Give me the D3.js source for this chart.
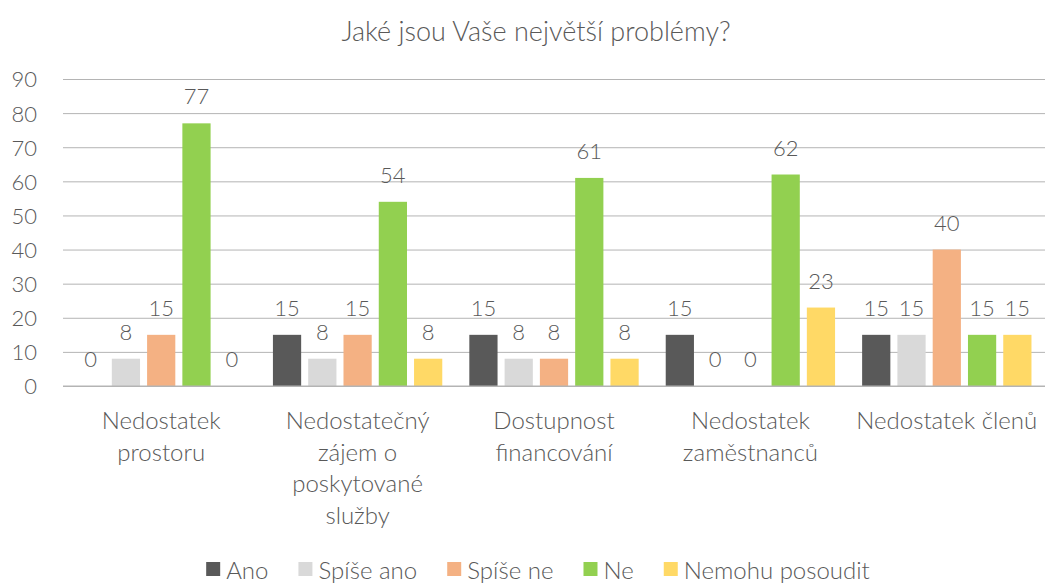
<!DOCTYPE html>
<html>
<head>
<meta charset="utf-8">
<script src="https://cdn.jsdelivr.net/npm/d3@7"></script>
<style>
  body { margin: 0; background: #fff; }
  svg text { font-family: Lato, "Open Sans", sans-serif; font-weight: 300; fill: #595959; }
</style>
</head>
<body>
<div id="chart"></div>
<script>
var chartTitle = "Jaké jsou Vaše největší problémy?";

var categories = ["Nedostatek prostoru", "Nedostatečný zájem o poskytované služby", "Dostupnost financování", "Nedostatek zaměstnanců", "Nedostatek členů"];
// wrapped tick labels as shown on the axis
var categoryLines = [
  ["Nedostatek", "prostoru"],
  ["Nedostatečný", "zájem o", "poskytované", "služby"],
  ["Dostupnost", "financování"],
  ["Nedostatek", "zaměstnanců"],
  ["Nedostatek členů"]
];

var seriesNames = ["Ano", "Spíše ano", "Spíše ne", "Ne", "Nemohu posoudit"];
var seriesColors = ["#595959", "#d9d9d9", "#f4b183", "#92d050", "#ffd966"];

var ano        = [0, 15, 15, 15, 15];
var spiseAno   = [8, 8, 8, 0, 15];
var spiseNe    = [15, 15, 8, 0, 40];
var ne         = [77, 54, 61, 62, 15];
var nemohu     = [0, 8, 8, 23, 15];

var yTicks = [0, 10, 20, 30, 40, 50, 60, 70, 80, 90];

var seriesValues = [ano, spiseAno, spiseNe, ne, nemohu];

var width = 1048, height = 585;
var margin = {top: 79, right: 3, bottom: 199, left: 63};
var innerW = width - margin.left - margin.right,
    innerH = height - margin.top - margin.bottom;

var svg = d3.select("#chart").append("svg")
  .attr("width", width)
  .attr("height", height);

//title
svg.append("text")
  .attr("x", 536)
  .attr("y", 41)
  .attr("text-anchor", "middle")
  .style("font-size", "27px")
  .text(chartTitle);

var g = svg.append("g")
  .attr("transform", "translate(" + margin.left + "," + margin.top + ")");

var x0 = d3.scaleBand()
  .domain(categories)
  .range([0, innerW])
  .paddingInner(0)
  .paddingOuter(0);

var x1 = d3.scaleBand()
  .domain(seriesNames)
  .range([10, x0.bandwidth() - 10])
  .paddingInner(0.2)
  .paddingOuter(0.1);

var y = d3.scaleLinear()
  .domain([0, 90])
  .range([innerH, 0]);

// gridlines
g.append("g")
  .attr("class", "grid")
  .call(d3.axisLeft(y).tickValues(yTicks).tickSize(-innerW).tickFormat(""))
  .call(function (s) {
    s.select(".domain").remove();
    s.selectAll("line").attr("stroke", "#b4b4b4").attr("stroke-width", 1);
  });

// y axis labels
g.append("g")
  .call(d3.axisLeft(y).tickValues(yTicks).tickSize(0).tickPadding(26))
  .call(function (s) {
    s.select(".domain").remove();
    s.selectAll("text").style("font-size", "22px").attr("dy", "0.36em")
      .attr("font-family", null).attr("fill", null);
  });

// bars
var rows = [];
categories.forEach(function (c, i) {
  seriesNames.forEach(function (s, j) {
    rows.push({cat: c, series: s, idx: j, value: seriesValues[j][i]});
  });
});

var groups = g.selectAll(".cat")
  .data(categories)
  .enter().append("g")
  .attr("class", "cat")
  .attr("transform", function (d) { return "translate(" + x0(d) + ",0)"; });

groups.selectAll("rect")
  .data(function (c) { return rows.filter(function (r) { return r.cat === c; }); })
  .enter().append("rect")
  .attr("x", function (d) { return x1(d.series); })
  .attr("width", x1.bandwidth())
  .attr("y", function (d) { return y(d.value); })
  .attr("height", function (d) { return innerH - y(d.value); })
  .attr("fill", function (d) { return seriesColors[d.idx]; });

// data labels
groups.selectAll(".lbl")
  .data(function (c) { return rows.filter(function (r) { return r.cat === c; }); })
  .enter().append("text")
  .attr("class", "lbl")
  .attr("x", function (d) { return x1(d.series) + x1.bandwidth() / 2; })
  .attr("y", function (d) { return y(d.value) - 19; })
  .attr("text-anchor", "middle")
  .style("font-size", "22px")
  .text(function (d) { return d.value; });

// x axis line
g.append("line")
  .attr("x1", 0).attr("x2", innerW)
  .attr("y1", innerH).attr("y2", innerH)
  .attr("stroke", "#b4b4b4");

// category labels
groups.append("text")
  .attr("text-anchor", "middle")
  .style("font-size", "24px")
  .selectAll("tspan")
  .data(function (c, i) { return categoryLines[i]; })
  .enter().append("tspan")
  .attr("x", x0.bandwidth() / 2)
  .attr("y", function (d, i) { return innerH + 43 + i * 31.5; })
  .text(function (d) { return d; });

// legend (kept just inside the bottom edge)
var legend = svg.append("g").attr("transform", "translate(0,571)");
var items = legend.selectAll(".item")
  .data(seriesNames)
  .enter().append("g")
  .attr("class", "item");

items.append("rect")
  .attr("width", 14).attr("height", 14)
  .attr("y", -9)
  .attr("fill", function (d, i) { return seriesColors[i]; });

items.append("text")
  .attr("x", 20)
  .attr("y", 0)
  .attr("dy", "0.32em")
  .style("font-size", "24px")
  .text(function (d) { return d; });

var offs = [], pos = 0;
items.each(function () {
  offs.push(pos);
  pos += 20 + this.querySelector("text").getComputedTextLength() + 30;
});
var totalW = pos - 30;
var startX = 538 - totalW / 2;
items.attr("transform", function (d, i) { return "translate(" + (startX + offs[i]) + ",0)"; });
</script>
</body>
</html>
